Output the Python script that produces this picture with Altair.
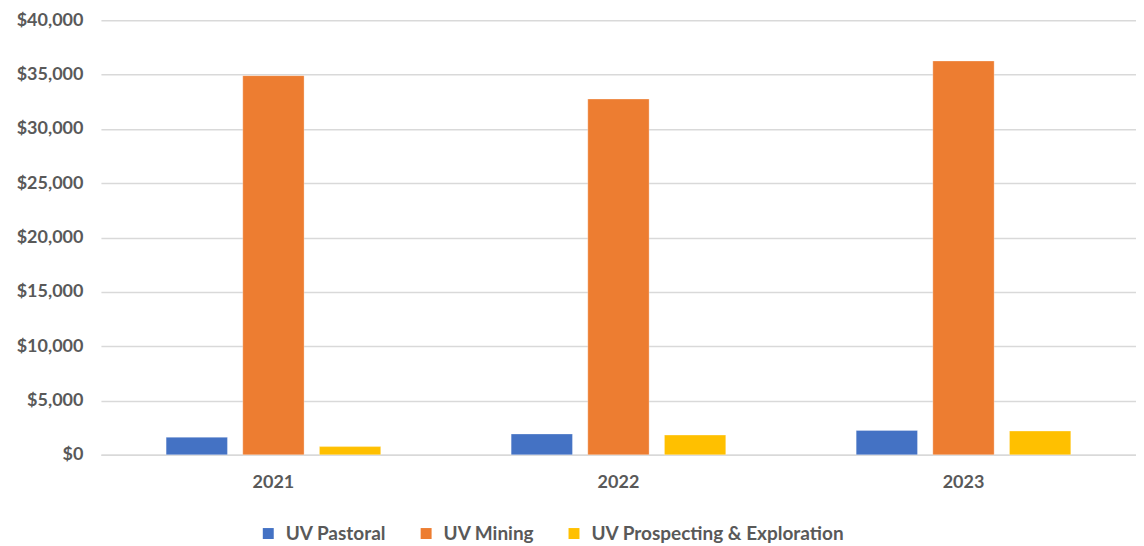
import altair as alt
import pandas as pd

years = ["2021", "2022", "2023"]
series = ["UV Pastoral", "UV Mining", "UV Prospecting & Exploration"]
pastoral = [1620, 1920, 2250]
mining = [34900, 32750, 36250]
prospecting = [760, 1820, 2190]
colors = ["#4472C4", "#ED7D31", "#FFC000"]
y_ticks = [0, 5000, 10000, 15000, 20000, 25000, 30000, 35000, 40000]

rows = []
for i, y in enumerate(years):
    for s, vals in zip(series, [pastoral, mining, prospecting]):
        rows.append({"Year": y, "Series": s, "Value": vals[i]})
df = pd.DataFrame(rows)

FONT = "Lato"
GRAY = "#595959"

chart = alt.Chart(df).mark_bar(stroke="white", strokeWidth=0.6, strokeOpacity=0.5).encode(
    x=alt.X("Year:N", sort=years, title=None,
            scale=alt.Scale(paddingInner=0.378, paddingOuter=0.189),
            axis=alt.Axis(labelAngle=0, ticks=False, domainColor="#d9d9d9", domainWidth=1.5,
                          labelFont=FONT, labelFontSize=18, labelFontWeight="bold",
                          labelColor=GRAY, labelPadding=19, grid=False)),
    xOffset=alt.XOffset("Series:N", sort=series, scale=alt.Scale(paddingInner=0.2, paddingOuter=0)),
    y=alt.Y("Value:Q", title=None, scale=alt.Scale(domain=[0, 40000]),
            axis=alt.Axis(values=y_ticks, format="$,.0f", domain=False, ticks=False,
                          labelFont=FONT, labelFontSize=18, labelFontWeight="bold",
                          labelColor=GRAY, labelPadding=18, gridColor="#d9d9d9", gridWidth=1.5)),
    color=alt.Color("Series:N", sort=series,
                    scale=alt.Scale(domain=series, range=colors),
                    legend=alt.Legend(title=None, orient="none", direction="horizontal",
                                      legendX=158, legendY=504, symbolType="square",
                                      symbolSize=120, symbolStrokeWidth=0, labelFont=FONT,
                                      labelFontSize=19, labelFontWeight="bold", labelColor=GRAY,
                                      labelLimit=0, columnPadding=30, labelOffset=8)),
).properties(
    width=1036, height=435,
    autosize=alt.AutoSizeParams(type="none"),
    padding={"left": 93, "top": 12, "right": 0, "bottom": 91},
).configure_view(stroke=None)

chart.save("out.html", embed_options={"renderer": "svg", "actions": False})
